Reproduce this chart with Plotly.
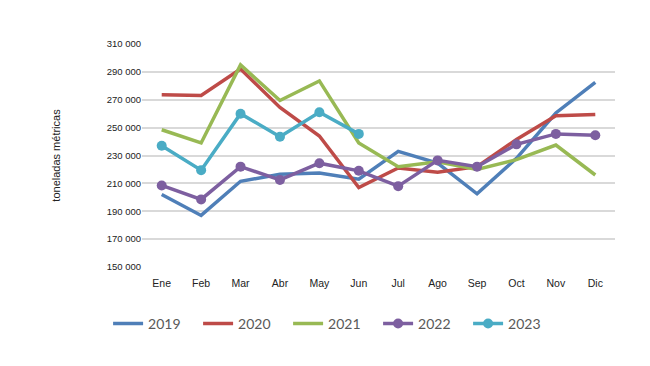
import plotly.graph_objects as go

months = ["Ene", "Feb", "Mar", "Abr", "May", "Jun", "Jul", "Ago", "Sep", "Oct", "Nov", "Dic"]
y2019 = [202000, 187000, 211500, 216500, 217500, 213000, 233000, 224500, 202500, 228000, 260500, 282500]
y2020 = [273500, 273000, 292000, 264500, 244000, 207000, 221000, 218000, 222000, 241500, 258500, 259500]
y2021 = [248500, 239000, 295000, 269500, 283500, 239000, 222000, 225500, 220000, 227000, 237500, 216000]
y2022 = [208500, 198500, 222000, 212500, 224500, 219000, 208000, 226500, 222000, 238000, 245500, 244500]
y2023 = [237000, 219500, 260000, 243500, 261000, 245500]
tick_vals = [150000, 170000, 190000, 210000, 230000, 250000, 270000, 290000, 310000]
tick_text = ["150 000", "170 000", "190 000", "210 000", "230 000", "250 000", "270 000", "290 000", "310 000"]

series = [
    ("2019", y2019, "#4F7FB8", False),
    ("2020", y2020, "#BE4B48", False),
    ("2021", y2021, "#98B954", False),
    ("2022", y2022, "#7D5FA0", True),
    ("2023", y2023, "#4AACC5", True),
]

fig = go.Figure()
for name, vals, color, mk in series:
    fig.add_trace(go.Scatter(
        x=months[:len(vals)], y=vals, name=name,
        mode="lines+markers" if mk else "lines",
        line=dict(color=color, width=3.5),
        marker=dict(size=10, color=color),
    ))

# page has an 8px body margin, so the figure is offset by 8px; margins compensate
fig.update_layout(
    width=650, height=366,
    margin=dict(l=134, r=43, t=36, b=107),
    paper_bgcolor="white", plot_bgcolor="white",
    font=dict(family="Liberation Sans, Arial, sans-serif", size=10, color="#222222"),
    xaxis=dict(type="category", categoryorder="array", categoryarray=months,
               showgrid=False, showline=False, ticks="", tickfont=dict(size=10.5),
               ticklabelstandoff=8, range=[-0.5, 11.5]),
    yaxis=dict(range=[150000, 310000], tickvals=tick_vals, ticktext=tick_text,
               showgrid=True, gridcolor="#D9D9D9", gridwidth=1.5, zeroline=False,
               ticks="", tickfont=dict(size=9.5),
               title=dict(text="toneladas métricas", font=dict(size=11), standoff=43)),
    showlegend=True,
    legend=dict(orientation="h", x=0.404, xanchor="center",
                y=-0.255, yanchor="middle", entrywidth=45,
                font=dict(family="Lato, Open Sans, sans-serif", size=14, color="#595959"),
                itemwidth=30),
)

fig.write_html("out.html", config={"displayModeBar": False})
